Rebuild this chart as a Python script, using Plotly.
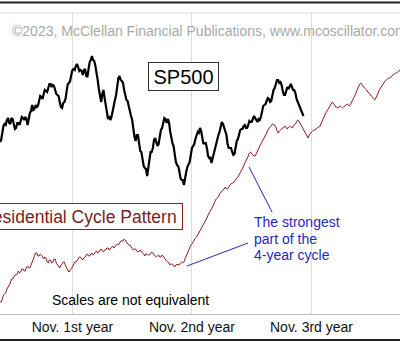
import plotly.graph_objects as go

# x = weeks from the left edge of the chart (half-week samples)
tick_vals = [31.5, 83.5, 135.5]
tick_text = ["Nov. 1st year", "Nov. 2nd year", "Nov. 3rd year"]

# S&P 500 (approx.), half-week samples from week 0 to week 132
sp500 = [3940, 3960, 4030, 4100, 4120, 4110, 4160, 4180, 4130, 4120,
         4180, 4170, 4120, 4070, 4080, 4130, 4130, 4110, 4150, 4190,
         4180, 4160, 4190, 4170, 4110, 4190, 4230, 4250, 4310, 4260,
         4270, 4310, 4290, 4300, 4370, 4400, 4390, 4370, 4420, 4460,
         4450, 4440, 4480, 4520, 4520, 4490, 4510, 4500, 4460, 4420,
         4410, 4400, 4340, 4290, 4280, 4330, 4340, 4370, 4450, 4520,
         4530, 4550, 4610, 4660, 4670, 4660, 4700, 4720, 4690, 4650,
         4660, 4650, 4610, 4660, 4670, 4600, 4590, 4690, 4740, 4760,
         4800, 4760, 4750, 4700, 4600, 4560, 4470, 4380, 4340, 4420,
         4460, 4380, 4320, 4230, 4170, 4200, 4160, 4190, 4250, 4330,
         4360, 4410, 4510, 4580, 4600, 4560, 4550, 4530, 4460, 4390,
         4360, 4350, 4290, 4230, 4200, 4160, 4070, 3990, 3950, 4010,
         4010, 3920, 3850, 3840, 3780, 3700, 3680, 3670, 3600, 3700,
         3780, 3840, 3840, 3880, 3960, 3980, 3940, 3900, 3920, 4010,
         4060, 4080, 4140, 4180, 4170, 4130, 4170, 4140, 4050, 3980,
         3930, 3900, 3810, 3740, 3710, 3700, 3650, 3580, 3560, 3560,
         3510, 3600, 3640, 3690, 3710, 3740, 3810, 3880, 3900, 3920,
         3970, 4020, 4040, 4030, 4080, 4050, 3980, 3920, 3930, 3930,
         3880, 3800, 3780, 3790, 3730, 3780, 3810, 3860, 3920, 3980,
         4010, 4040, 4100, 4140, 4120, 4080, 4050, 4010, 3920, 3880,
         3880, 3880, 3840, 3810, 3820, 3900, 3950, 3970, 4020, 4060,
         4070, 4070, 4100, 4110, 4080, 4080, 4110, 4150, 4140, 4140,
         4170, 4200, 4180, 4150, 4140, 4170, 4160, 4190, 4250, 4300,
         4310, 4320, 4350, 4380, 4370, 4340, 4350, 4420, 4460, 4480,
         4520, 4560, 4560, 4530, 4540, 4510, 4450, 4410, 4410, 4460,
         4490, 4470, 4490, 4520, 4490, 4460, 4460, 4430, 4370, 4340,
         4300, 4290, 4250, 4210, 4200]

# Presidential cycle pattern index (approx.), half-week samples, weeks 0..174
pattern = [8, 8, 11, 15, 16, 17, 21, 24, 25, 27,
           31, 31, 33, 35, 35, 36, 39, 37, 38, 41,
           41, 39, 39, 43, 44, 42, 42, 45, 47, 52,
           54, 57, 57, 54, 54, 56, 55, 52, 51, 53,
           52, 48, 47, 50, 50, 47, 48, 51, 51, 47,
           45, 44, 42, 45, 46, 48, 48, 44, 42, 41,
           38, 40, 41, 43, 46, 48, 48, 49, 51, 53,
           53, 51, 50, 52, 53, 55, 56, 54, 54, 56,
           57, 55, 56, 58, 59, 57, 58, 60, 61, 59,
           58, 60, 60, 62, 62, 60, 61, 63, 64, 62,
           63, 65, 66, 65, 67, 69, 69, 69, 71, 70,
           68, 66, 65, 65, 63, 61, 60, 61, 61, 59,
           58, 59, 60, 58, 57, 56, 54, 56, 56, 55,
           55, 57, 58, 57, 55, 54, 53, 54, 55, 53,
           53, 55, 54, 52, 50, 49, 48, 47, 45, 46,
           46, 44, 43, 45, 46, 45, 45, 47, 48, 47,
           48, 51, 54, 56, 59, 62, 65, 66, 68, 71,
           72, 73, 75, 78, 80, 81, 83, 86, 88, 90,
           92, 95, 98, 99, 101, 104, 107, 109, 111, 112,
           113, 116, 118, 119, 120, 121, 123, 121, 121, 124,
           125, 126, 127, 127, 129, 131, 132, 133, 135, 137,
           139, 141, 144, 147, 149, 151, 154, 157, 158, 156,
           155, 154, 154, 157, 159, 161, 164, 166, 168, 171,
           173, 175, 177, 180, 182, 183, 184, 186, 186, 184,
           183, 179, 177, 179, 180, 181, 182, 183, 184, 182,
           181, 183, 184, 183, 182, 184, 185, 186, 188, 190,
           189, 187, 185, 183, 180, 178, 177, 174, 172, 175,
           177, 178, 179, 180, 180, 181, 182, 183, 183, 186,
           188, 191, 194, 196, 198, 200, 202, 205, 207, 208,
           207, 205, 203, 203, 202, 203, 204, 203, 202, 203,
           204, 205, 206, 205, 204, 206, 208, 211, 213, 215,
           218, 221, 224, 226, 227, 225, 224, 222, 221, 220,
           218, 217, 216, 214, 213, 211, 210, 212, 214, 217,
           220, 222, 224, 226, 227, 229, 230, 231, 232, 232,
           233, 234, 235, 236, 237, 237, 238, 239, 240]

sp500_weeks = [i * 0.5 for i in range(len(sp500))]
pattern_weeks = [i * 0.5 for i in range(len(pattern))]

FONT = "Arial, Liberation Sans, sans-serif"
RED = "#8B1E1E"
BLUE = "#2727BF"

fig = go.Figure()
fig.add_trace(go.Scatter(x=pattern_weeks, y=pattern, mode="lines", yaxis="y2",
                         line=dict(color=RED, width=1), showlegend=False,
                         hoverinfo="skip"))
fig.add_trace(go.Scatter(x=sp500_weeks, y=sp500, mode="lines",
                         line=dict(color="#000000", width=2.2), showlegend=False,
                         hoverinfo="skip"))


def px(xp):
    return xp / 400.0


def py(yp):
    return (314.0 - yp) / 301.0


fig.update_layout(
    width=400, height=342,
    margin=dict(l=0, r=0, t=13, b=28),
    paper_bgcolor="white", plot_bgcolor="white",
    font=dict(family=FONT, size=14, color="#000"),
    xaxis=dict(range=[0, 174], tickvals=tick_vals, ticktext=tick_text,
               showgrid=True, gridcolor="#dcdcdc", gridwidth=1,
               zeroline=False, showline=True, linecolor="#bdbdbd", linewidth=1,
               ticks="", tickfont=dict(size=14, family=FONT, color="#111")),
    yaxis=dict(range=[2220, 5230], visible=False, showgrid=False),
    yaxis2=dict(range=[-4, 297], overlaying="y", visible=False, showgrid=False),
    shapes=[
        dict(type="line", xref="paper", yref="paper", x0=0, x1=1, y0=1, y1=1,
             line=dict(color="#dddddd", width=1)),
        dict(type="line", xref="paper", yref="paper", x0=0, x1=1,
             y0=py(2.5), y1=py(2.5), line=dict(color="#222222", width=2)),
        dict(type="line", xref="paper", yref="paper", x0=0, x1=1,
             y0=py(340), y1=py(340), line=dict(color="#222222", width=2)),
        dict(type="line", xref="paper", yref="paper", x0=px(249), y0=py(167),
             x1=px(272), y1=py(212), line=dict(color=BLUE, width=1)),
        dict(type="line", xref="paper", yref="paper", x0=px(187), y0=py(266),
             x1=px(248), y1=py(243), line=dict(color=BLUE, width=1)),
    ],
    annotations=[
        dict(text="©2023, McClellan Financial Publications, www.mcoscillator.com",
             xref="paper", yref="paper", x=px(10), y=py(31), xanchor="left",
             yanchor="middle", showarrow=False,
             font=dict(size=14, color="#a8a8a8", family=FONT)),
        dict(text="SP500", xref="paper", yref="paper", x=px(183.5), y=py(76.5),
             xanchor="center", yanchor="middle", showarrow=False,
             width=67, height=25, borderpad=1, borderwidth=1,
             bordercolor="#333333", bgcolor="white",
             font=dict(size=20, color="#000", family=FONT)),
        dict(text="Presidential Cycle Pattern", xref="paper", yref="paper",
             x=px(76), y=py(216.5), xanchor="center", yanchor="middle",
             showarrow=False, width=208, height=21, borderpad=2, borderwidth=1,
             bordercolor=RED, bgcolor="white",
             font=dict(size=17.5, color="#7A1C1C", family=FONT)),
        dict(text="Scales are not equivalent", xref="paper", yref="paper",
             x=px(130), y=py(300), xanchor="center", yanchor="middle",
             showarrow=False, font=dict(size=14, color="#000", family=FONT)),
        dict(text="The strongest", xref="paper", yref="paper", x=px(252),
             y=py(222), xanchor="left", yanchor="middle", showarrow=False,
             font=dict(size=14, color=BLUE, family=FONT)),
        dict(text="part of the", xref="paper", yref="paper", x=px(252),
             y=py(238.5), xanchor="left", yanchor="middle", showarrow=False,
             font=dict(size=14, color=BLUE, family=FONT)),
        dict(text="4-year cycle", xref="paper", yref="paper", x=px(252),
             y=py(255), xanchor="left", yanchor="middle", showarrow=False,
             font=dict(size=14, color=BLUE, family=FONT)),
    ],
)

fig.write_html("out.html")
